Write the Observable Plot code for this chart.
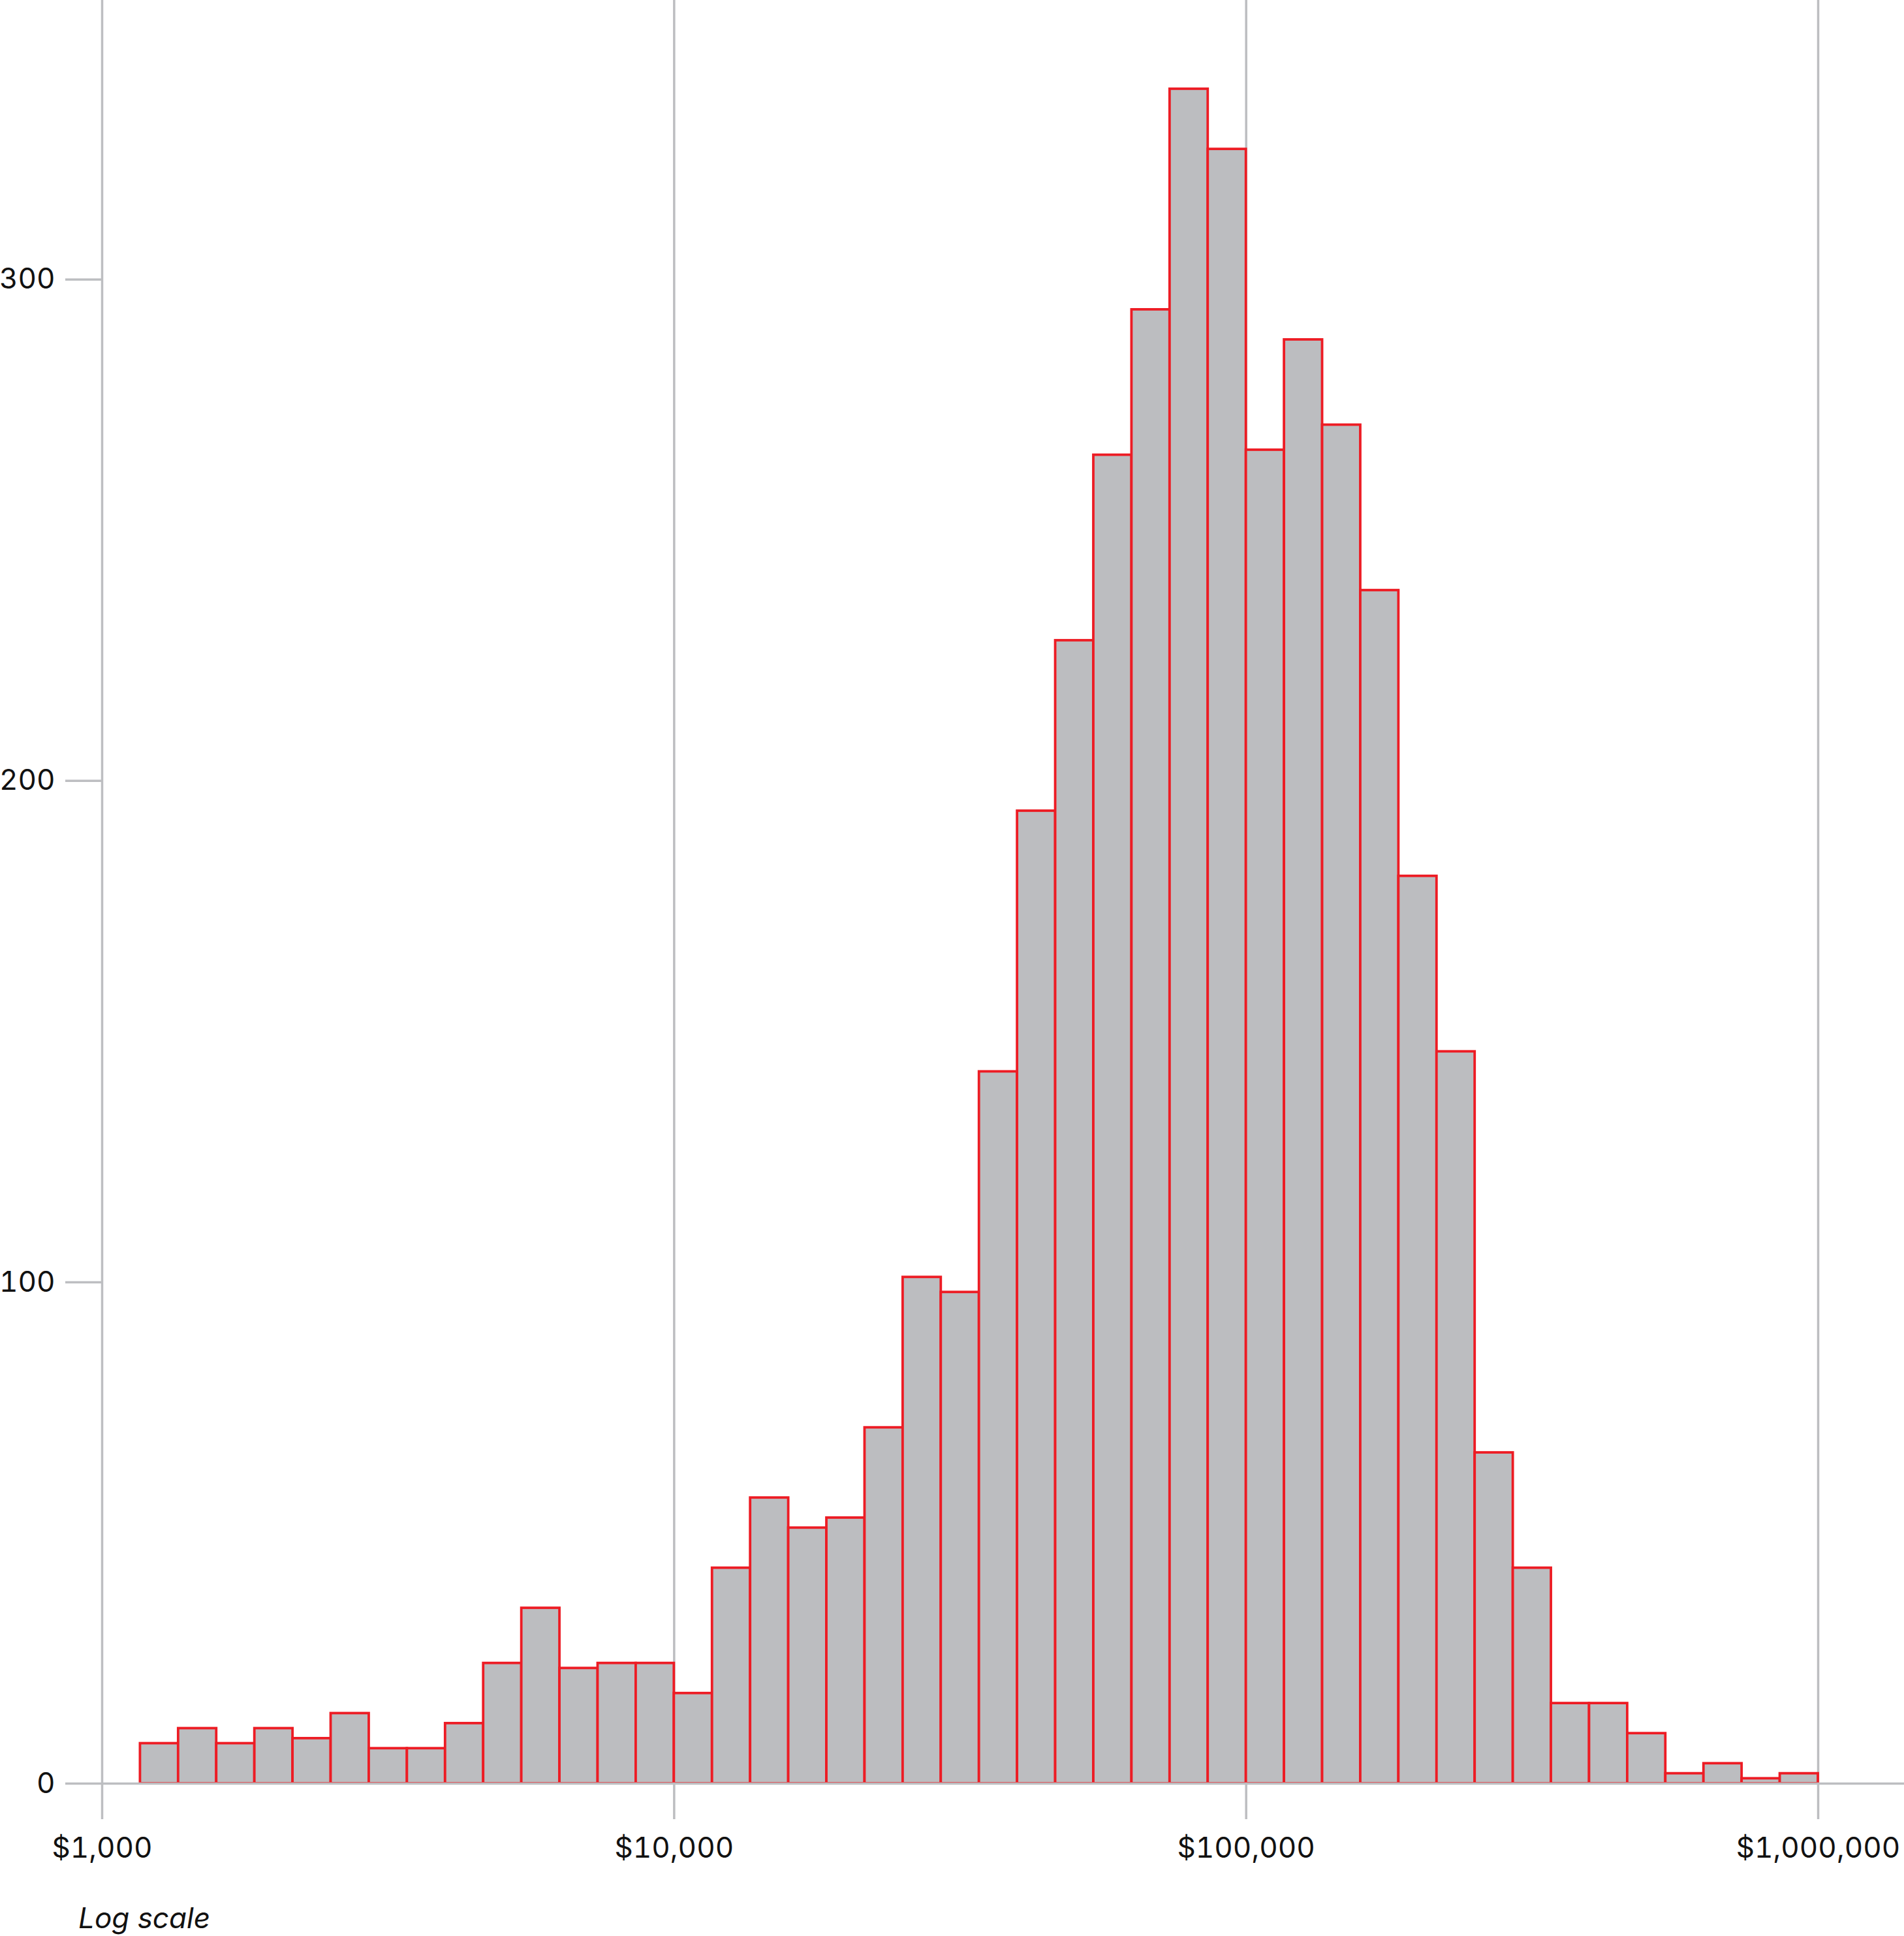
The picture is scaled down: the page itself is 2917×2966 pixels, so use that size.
<!DOCTYPE html>
<html>
<head>
<meta charset="utf-8">
<script src="https://cdn.jsdelivr.net/npm/d3@7"></script>
<script src="https://cdn.jsdelivr.net/npm/@observablehq/plot@0.6"></script>
<style>
  html, body { margin: 0; padding: 0; background: #fff; }
  #wrap { position: relative; width: 2917px; height: 2966px; }
  #note { position: absolute; left: 120px; top: 2915px; font-family: Inter, "Open Sans", sans-serif; font-style: italic; font-size: 44px; line-height: 46px; color: #111; }
</style>
</head>
<body>
<div id="wrap">
  <div id="chart"></div>
  <div id="note">Log scale</div>
</div>
<script>
// Histogram of values on a log scale: 15 bins per decade, from 10^(3+1/15) to 10^6
const binsPerDecade = 15;
const firstBinExponent = 3 + 1 / 15;
const counts = [
  8, 11, 8, 11, 9, 14, 7, 7, 12, 24,
  35, 23, 24, 24, 18, 43, 57, 51, 53, 71,
  101, 98, 142, 194, 228, 265, 294, 338, 326, 266,
  288, 271, 238, 181, 146, 66, 43, 16, 16, 10,
  2, 4, 1, 2
];
const xTicks = [1e3, 1e4, 1e5, 1e6];
const yTicks = [0, 100, 200, 300];

const bins = counts.map((c, i) => ({
  x1: Math.pow(10, firstBinExponent + i / binsPerDecade),
  x2: Math.pow(10, firstBinExponent + (i + 1) / binsPerDecade),
  count: c
}));

const gray = "#bdbec1";
const W = 2917, H = 2870;
const chart = Plot.plot({
  width: W,
  height: H,
  marginLeft: 156,
  marginRight: 0,
  marginTop: 0,
  marginBottom: H - 2732,
  style: { fontFamily: "Inter, 'Open Sans', sans-serif", fontSize: "44px", color: "#111", background: "#fff" },
  x: { type: "log", domain: [1000, Math.pow(10, 6.1506)] },
  y: { domain: [0, 355.7] },
  marks: [
    Plot.gridX(xTicks, { stroke: gray, strokeOpacity: 1, strokeWidth: 3.5 }),
    Plot.rectY(bins, { x1: "x1", x2: "x2", y: "count", fill: "#bcbdc0", stroke: "#ed1c24", strokeWidth: 3.8 }),
    Plot.ruleY([0], { stroke: gray, strokeWidth: 3.5 }),
    Plot.axisX(xTicks, { tickFormat: d3.format("$,"), tickSize: 55, tickPadding: 27, stroke: gray, strokeWidth: 3.5, fill: "#111", fontSize: 44, label: null }),
    Plot.axisY(yTicks, { tickSize: 56, tickPadding: 16, stroke: gray, strokeWidth: 3.5, fill: "#111", fontSize: 44, label: null })
  ]
});
document.getElementById("chart").appendChild(chart);
</script>
</body>
</html>
